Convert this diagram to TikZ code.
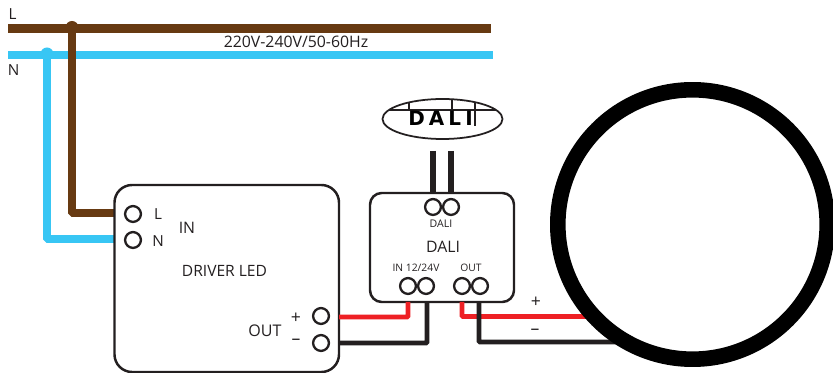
\documentclass[tikz,border=0pt]{standalone}
\usepackage{fontspec}
\setmainfont{Open Sans}
\newfontfamily\logofont{DejaVu Sans}
\definecolor{wirebrown}{HTML}{673A12}
\definecolor{wireblue}{HTML}{38C6F4}
\definecolor{wirered}{HTML}{EE2024}
\definecolor{wireblack}{HTML}{231F20}
\tikzset{
  box/.style={draw=wireblack,line width=2.1pt,rounded corners=#1},
  terminal/.style={circle,draw=wireblack,line width=2pt,fill=white,minimum size=13.5pt,inner sep=0pt},
  wire/.style={line width=4.2pt,rounded corners=1pt},
  mains/.style={line width=7pt},
  lbl/.style={text=wireblack,inner sep=0pt,font=\fontsize{#1}{#1}\selectfont},
  lbl/.default=13pt
}
\begin{document}
\begin{tikzpicture}[x=0.03cm,y=-0.03cm]
  \useasboundingbox (0,0) rectangle (833,373);
  % mains
  \coordinate (Lstart) at (8,28.5);
  \coordinate (Lend) at (491,28.5);
  \coordinate (Nstart) at (8,55);
  \coordinate (Nend) at (493,55);
  \coordinate (Ltap) at (72,28.5);
  \coordinate (Ntap) at (47,55);
  \draw[mains,wireblue] (Nstart) -- (Nend);
  \fill[wireblue] (Ntap) ++(0,-1) circle (6.5);
  \draw[wire,wireblue,line width=6.6pt] (Ntap) |- (114,239);
  \draw[mains,wirebrown] (Lstart) -- (Lend);
  \fill[wirebrown] (Ltap) ++(0,-1) circle (6.5);
  \draw[wire,wirebrown,line width=6.6pt] (Ltap) |- (114,213);
  \node[lbl] (Ltext) at (12.5,14) {L};
  \node[lbl] (Ntext) at (13.5,70) {N};
  \node[lbl=13.5pt] (mainstext) at (296,42) {220V-240V/50-60Hz};

  % driver
  \draw[box=15pt,fill=white] (114.5,185) rectangle (339,372);
  \coordinate (drvplus) at (339,317);
  \coordinate (drvminus) at (339,343);
  \node[terminal] (tL) at (133,214) {};
  \node[terminal] (tN) at (133,240) {};
  \node[terminal] (tP) at (321,316) {};
  \node[terminal] (tM) at (321,343) {};
  \node[lbl] (lL) at (158,214) {L};
  \node[lbl] (lN) at (158,241) {N};
  \node[lbl=13.5pt] (lIN) at (187,228) {IN};
  \node[lbl=13.3pt] (lDRV) at (224.5,271) {DRIVER LED};
  \node[lbl=13.7pt] (lOUT) at (265,331) {OUT};
  \node[lbl=15pt] (lP) at (296,318) {+};
  \node[lbl=15pt] (lM) at (296,342) {--};

  % dali module
  \draw[box=10pt] (370,193) rectangle (514,302);
  \coordinate (dIa) at (408,302);
  \coordinate (dIb) at (427,302);
  \coordinate (dOa) at (462,302);
  \coordinate (dOb) at (479,302);
  \node[terminal] (ta) at (433,207) {};
  \node[terminal] (tb) at (451,207) {};
  \node[terminal] (t1) at (408,286) {};
  \node[terminal] (t2) at (426,286) {};
  \node[terminal] (t3) at (462,286) {};
  \node[terminal] (t4) at (480,286) {};
  \node[lbl=9pt] (lDa) at (441,224) {DALI};
  \node[lbl=13.5pt] (lDb) at (443,247) {DALI};
  \node[lbl=8.8pt] (lDc) at (416,268) {IN 12/24V};
  \node[lbl=8.8pt] (lDd) at (471,268) {OUT};

  % wires
  \coordinate (lampP) at (600,316.5);
  \coordinate (lampM) at (620,342);
  \draw[wire,wirered] (drvplus) -| (dIa);
  \draw[wire,wireblack] (drvminus) -| (dIb);
  \draw[wire,wirered] (dOa) |- (lampP);
  \draw[wire,wireblack] (dOb) |- (lampM);
  \node[lbl=15pt] (lp2) at (536,302) {+};
  \node[lbl=15pt] (lm2) at (535,332) {--};

  % dali logo
  \coordinate (logo) at (442.5,119);
  \draw[line width=1.5pt,wireblack,fill=white] (logo) ellipse (60 and 20);
  \draw[line width=1pt,wireblack] (389,110) -- (496,110);
  \draw[line width=1pt,wireblack] (409,102) -- (409,110) (452,99) -- (452,110) (475,102) -- (475,126);
  \node[inner sep=0pt,font=\logofont\bfseries\fontsize{17pt}{17pt}\selectfont] (logotext) at (440.5,118.5) {D\hspace{3.5pt}A\hspace{3.5pt}L\hspace{3.5pt}I};
  \coordinate (busa) at (433,151);
  \coordinate (busb) at (451,151);
  \coordinate (busc) at (433,193);
  \coordinate (busd) at (451,193);
  \draw[wireblack,line width=5pt] (busa) -- (busc);
  \draw[wireblack,line width=5pt] (busb) -- (busd);

  % lamp
  \coordinate (ringc) at (692.5,224.5);
  \draw[line width=13.3pt,black,fill=white] (ringc) circle (134.7);
\end{tikzpicture}
\end{document}
